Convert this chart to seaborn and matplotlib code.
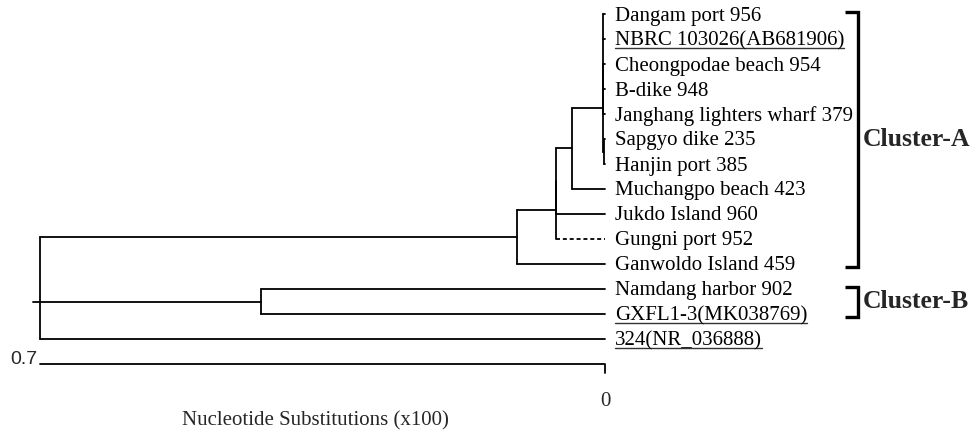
import numpy as np
import pandas as pd
import matplotlib
matplotlib.use('Agg')
from matplotlib import pyplot as plt
import seaborn as sns

# leaves, top to bottom
leaf_labels = ['Dangam port 956', 'NBRC 103026(AB681906)', 'Cheongpodae beach 954', 'B-dike 948',
               'Janghang lighters wharf 379', 'Sapgyo dike 235', 'Hanjin port 385',
               'Muchangpo beach 423', 'Jukdo Island 960', 'Gungni port 952', 'Ganwoldo Island 459',
               'Namdang harbor 902', 'GXFL1-3(MK038769)', '324(NR_036888)']
underlined = ['NBRC 103026(AB681906)', 'GXFL1-3(MK038769)', '324(NR_036888)']
dashed_leaves = ['Gungni port 952']

# internal nodes (children first), heights in nucleotide substitutions (x100)
node_names = ['P', 'Q', 'T', 'M', 'JM', 'J', 'A', 'B', 'root']
node_children = [
    ['Dangam port 956', 'NBRC 103026(AB681906)', 'Cheongpodae beach 954', 'B-dike 948',
     'Janghang lighters wharf 379'],
    ['Sapgyo dike 235', 'Hanjin port 385'],
    ['P', 'Q'],
    ['T', 'Muchangpo beach 423'],
    ['M', 'Jukdo Island 960'],
    ['JM', 'Gungni port 952'],
    ['J', 'Ganwoldo Island 459'],
    ['Namdang harbor 902', 'GXFL1-3(MK038769)'],
    ['A', 'B', '324(NR_036888)'],
]
node_heights = [0.0025, 0.0010, 0.0025, 0.041, 0.0607, 0.0607, 0.109, 0.426, 0.700]
root_stub = 0.709   # cluster B branch sticks out a little past the root

clusters = ['Cluster-A', 'Cluster-B']
cluster_first = [0, 11]
cluster_last = [10, 12]

scale_max = 0.7
scale_ticks = ['0.7', '0']

sns.set_style('white')
serif = ['Liberation Serif', 'DejaVu Serif']

# build tree segments
ypos = {name: i for i, name in enumerate(leaf_labels)}
xpos = {name: 0.0 for name in leaf_labels}
rows = []
seg = 0


def add(xs, ys, style='solid'):
    global seg
    for x, y in zip(xs, ys):
        rows.append({'x': x, 'y': y, 'seg': seg, 'style': style})
    seg += 1


for name, kids, h in zip(node_names, node_children, node_heights):
    xpos[name] = h
    ypos[name] = (ypos[kids[0]] + ypos[kids[-1]]) / 2
    add([h, h], [ypos[kids[0]], ypos[kids[-1]]])
    for k in kids:
        st = 'dash' if k in dashed_leaves else 'solid'
        x0 = root_stub if (name == 'root' and k == 'B') else h
        add([x0, xpos[k]], [ypos[k], ypos[k]], st)

# scale bar
bar_y = len(leaf_labels) + 0.0
add([scale_max, 0, 0], [bar_y, bar_y, bar_y + 0.34])

df = pd.DataFrame(rows)

fig = plt.figure(figsize=(9.71, 4.33), dpi=100)
ax = fig.add_axes([0, 0, 1, 1])
sns.lineplot(data=df, x='x', y='y', units='seg', estimator=None, sort=False,
             style='style', dashes={'solid': '', 'dash': (2.2, 1.6)},
             color='black', linewidth=1.3, legend=False, ax=ax)
ax.set_xlim(0.7496, -0.4535)
ax.set_ylim(16.76, -0.56)
ax.axis('off')

gap = 0.0124
texts = []
for i, lab in enumerate(leaf_labels):
    t = ax.text(-gap, i + 0.08, lab, family=serif, fontsize=15, va='center', ha='left',
                color='black')
    texts.append(t)

ax.text(0.7037, bar_y - 0.02, scale_ticks[0], family=['Liberation Sans', 'DejaVu Sans'],
        fontsize=14, ha='right', va='baseline')
ax.text(0, bar_y + 1.52, scale_ticks[1], family=serif, fontsize=15, ha='center', va='center')
ax.text(0.3593, bar_y + 2.28, 'Nucleotide Substitutions (x100)', family=serif, fontsize=15,
        ha='center', va='center')

# cluster brackets
xt, xb = -0.2973, -0.3134
for name, a, b in zip(clusters, cluster_first, cluster_last):
    y0, y1 = a - 0.1, b + 0.1
    ax.plot([xt, xb, xb, xt], [y0, y0, y1, y1], color='black', lw=2.4,
            solid_joinstyle='miter', solid_capstyle='butt')
    ax.text(xb - 0.006, (y0 + y1) / 2, name, family=serif, fontsize=18.5,
            fontweight='bold', ha='left', va='center')

# underline the reference strains
fig.canvas.draw()
renderer = fig.canvas.get_renderer()
inv = ax.transData.inverted()
for t in texts:
    if t.get_text() in underlined:
        bb = t.get_window_extent(renderer)
        (xa, ya), (xz, _) = inv.transform([(bb.x0, bb.y0 + 2.5), (bb.x1, bb.y0 + 2.5)])
        ax.plot([xa, xz], [ya, ya], color='#333333', lw=1.0)

fig.savefig('out.png', dpi=100)
